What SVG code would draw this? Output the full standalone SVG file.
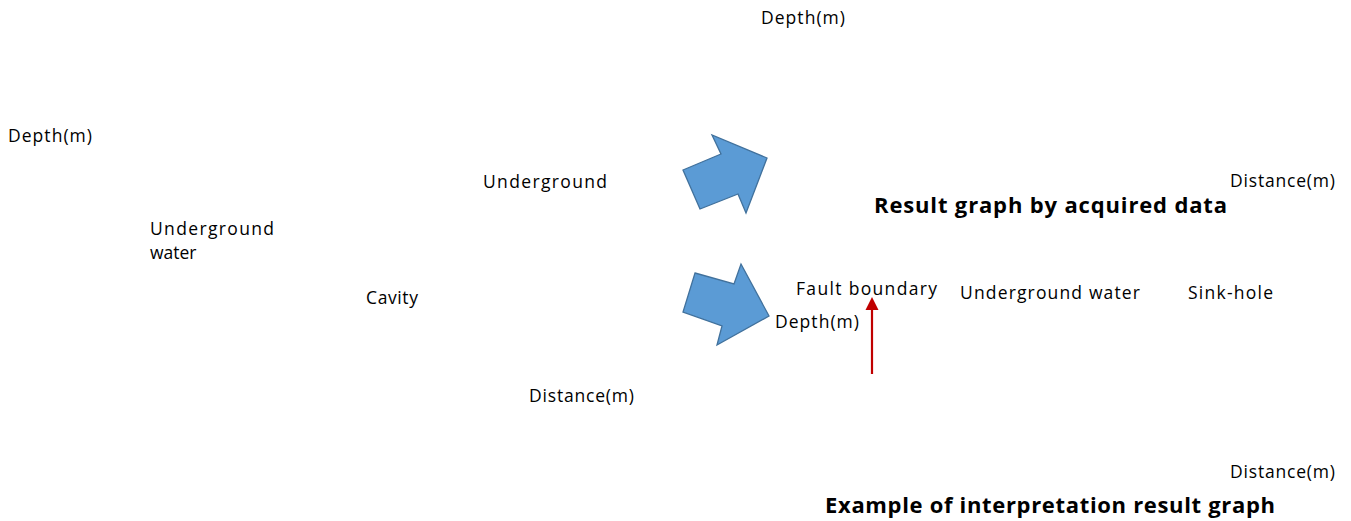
<svg xmlns="http://www.w3.org/2000/svg" width="1351" height="521" viewBox="0 0 1351 521">
<style>
.t{font-family:"Open Sans","Noto Sans","Liberation Sans",sans-serif;font-size:17.5px;fill:#000}
.b{font-family:"Open Sans","Noto Sans","Liberation Sans",sans-serif;font-size:22px;font-weight:bold;fill:#000}
.blk{fill:#5b9bd5;stroke:#41719c;stroke-width:1.3}
</style>
<rect width="1351" height="521" fill="#fff"/>
<g id="arrow1"><polygon class="blk" points="683,170 721,154 712,135 767,158 746,213 738,194 700,209"/></g>
<g id="arrow2"><polygon class="blk" points="695,273 734,284 741,264 769,316 717,345 722,326 683,312"/></g>
<g id="connectors">
<line x1="872" y1="374" x2="872" y2="307" stroke="#c00000" stroke-width="2.2"/>
<polygon points="872,297 878.5,310 865.5,310" fill="#c00000"/>
</g>
<g id="labels">
<text class="t" x="761" y="24" textLength="84">Depth(m)</text>
<text class="t" x="8" y="142" textLength="84">Depth(m)</text>
<text class="t" x="483" y="188" textLength="124">Underground</text>
<text class="t" x="1230" y="187" textLength="105">Distance(m)</text>
<text class="t" x="150" y="235" textLength="124">Underground</text>
<text class="t" x="150" y="259">water</text>
<text class="t" x="366" y="304" textLength="52">Cavity</text>
<text class="t" x="796" y="295" textLength="141">Fault boundary</text>
<text class="t" x="960" y="299" textLength="180">Underground water</text>
<text class="t" x="1188" y="299" textLength="85">Sink-hole</text>
<text class="t" x="775" y="328" textLength="84">Depth(m)</text>
<text class="t" x="529" y="402" textLength="105">Distance(m)</text>
<text class="t" x="1230" y="478" textLength="105">Distance(m)</text>
<text class="b" x="874" y="213" textLength="353">Result graph by acquired data</text>
<text class="b" x="825" y="513" textLength="450">Example of interpretation result graph</text>
</g>
</svg>
